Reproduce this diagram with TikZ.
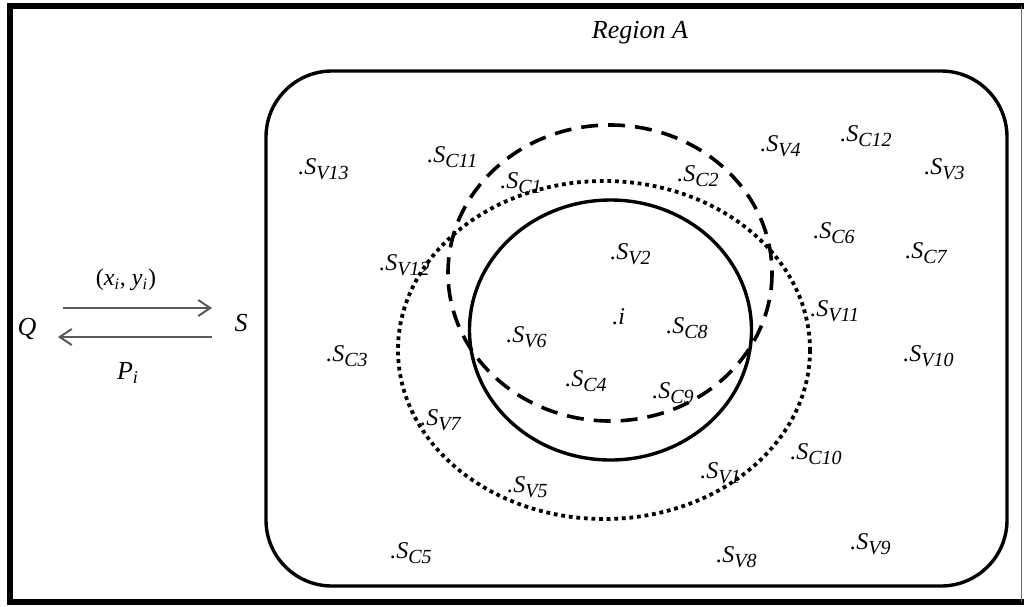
\documentclass[tikz,border=0pt]{standalone}
\usepackage{fontspec}
\setmainfont{Liberation Serif}
\usetikzlibrary{arrows.meta}

\newcommand\sensor[1]{.S\raisebox{-2.5pt}{\fontsize{10}{10}\selectfont #1}}
\tikzset{
  lbl/.style={anchor=base west, inner sep=0pt, font=\fontsize{12}{14}\selectfont\itshape},
  txt/.style={inner sep=0pt, font=\fontsize{13}{15}\selectfont\itshape},
  msg/.style={draw=black!65, line width=1pt, -{Straight Barb[length=6pt,width=8pt]}},
}

\begin{document}
\begin{tikzpicture}[x=0.5pt, y=-0.5pt]
  \useasboundingbox (0,0) rectangle (1024,606);

  %% frame
  \draw[line width=3pt] (1024,5.5) -- (9.5,5.5) -- (9.5,602) -- (1024,602);
  \draw[line width=0.6pt, black!60] (1021.5,5.5) -- (1021.5,602);

  %% region A
  \draw[line width=1.7pt, rounded corners=33pt] (266,71) rectangle (1007,586);
  \node[txt] (regiona) at (640,33) {Region A};

  %% ranges
  \draw[line width=1.7pt] (610.5,330) ellipse [x radius=141, y radius=130];
  \draw[line width=1.8pt, dash pattern=on 8.5pt off 5pt] (610,273) ellipse [x radius=162, y radius=148];
  \draw[line width=1.9pt, dash pattern=on 1.9pt off 1.9pt] (604,350) ellipse [x radius=206, y radius=169];

  %% query and server
  \node[txt] (q) at (27,329) {Q};
  \node[txt] (s) at (241,323) {S};
  \coordinate (qs1) at (63,308);
  \coordinate (qs2) at (212,308);
  \coordinate (sq1) at (212,337);
  \coordinate (sq2) at (58,337);
  \draw[msg] (qs1) -- (qs2); %% Q to S
  \draw[msg] (sq1) -- (sq2); %% S to Q
  \node[txt, font=\fontsize{12}{14}\selectfont] (xy) at (126,280) {(\textit{x}\textsubscript{\textit{i}}, \textit{y}\textsubscript{\textit{i}})};
  \node[txt] (pi) at (128,373) {P\textsubscript{i}};

  %% sensors
  \node[lbl] (sv13) at (298,174) {\sensor{V13}};
  \node[lbl] (sc11) at (427,162) {\sensor{C11}};
  \node[lbl] (sc1) at (500,188) {\sensor{C1}};
  \node[lbl] (sc2) at (677,181) {\sensor{C2}};
  \node[lbl] (sv4) at (760,151) {\sensor{V4}};
  \node[lbl] (sc12) at (840,141) {\sensor{C12}};
  \node[lbl] (sv3) at (924,174) {\sensor{V3}};
  \node[lbl] (sc6) at (813,238) {\sensor{C6}};
  \node[lbl] (sc7) at (905,258) {\sensor{C7}};
  \node[lbl] (sv12) at (379,270) {\sensor{V12}};
  \node[lbl] (sv2) at (610,259) {\sensor{V2}};
  \node[lbl] (sv11) at (810,316) {\sensor{V11}};
  \node[lbl] (pti) at (612,324) {.i};
  \node[lbl] (sv6) at (506,342) {\sensor{V6}};
  \node[lbl] (sc8) at (666,333) {\sensor{C8}};
  \node[lbl] (sc3) at (326,361) {\sensor{C3}};
  \node[lbl] (sv10) at (903,361) {\sensor{V10}};
  \node[lbl] (sc4) at (565,386) {\sensor{C4}};
  \node[lbl] (sc9) at (652,398) {\sensor{C9}};
  \node[lbl] (sv7) at (420,425) {\sensor{V7}};
  \node[lbl] (sc10) at (790,459) {\sensor{C10}};
  \node[lbl] (sv1) at (700,478) {\sensor{V1}};
  \node[lbl] (sv5) at (507,492) {\sensor{V5}};
  \node[lbl] (sc5) at (390,558) {\sensor{C5}};
  \node[lbl] (sv8) at (716,562) {\sensor{V8}};
  \node[lbl] (sv9) at (850,549) {\sensor{V9}};

\end{tikzpicture}
\end{document}
